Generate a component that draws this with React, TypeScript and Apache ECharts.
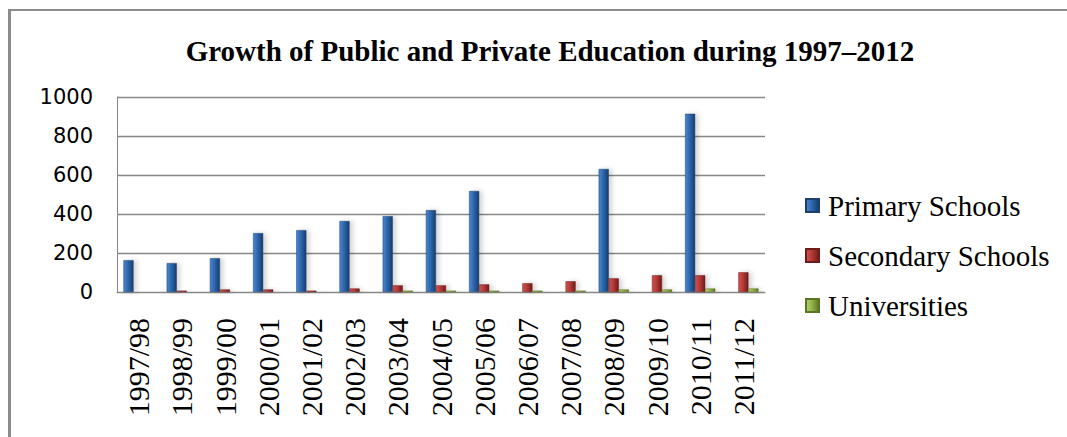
import React, { useEffect, useRef } from "react";
import * as echarts from "echarts";

const categories = [
  "1997/98", "1998/99", "1999/00", "2000/01", "2001/02", "2002/03", "2003/04", "2004/05",
  "2005/06", "2006/07", "2007/08", "2008/09", "2009/10", "2010/11", "2011/12",
];
const primarySchools: (number | null)[] = [163, 148, 173, 302, 317, 364, 389, 420, 518, null, null, 631, null, 914, null];
const secondarySchools: (number | null)[] = [null, 7, 13, 13, 7, 18, 34, 34, 39, 45, 55, 70, 86, 86, 101];
const universities: (number | null)[] = [null, null, null, null, null, null, 7, 7, 7, 7, 7, 13, 13, 18, 18];
const yTicks = [0, 200, 400, 600, 800, 1000];

const SERIF = "Liberation Serif";

const grad = (a: string, b: string, c: string) =>
  new echarts.graphic.LinearGradient(0, 0, 1, 0, [
    { offset: 0, color: a },
    { offset: 0.45, color: b },
    { offset: 1, color: c },
  ]);

export default function App() {
  const ref = useRef<HTMLDivElement>(null);
  useEffect(() => {
    if (!ref.current) return;
    const chart = echarts.init(ref.current, undefined, { renderer: "svg" });
    const shadow = {
      shadowColor: "rgba(0,0,0,0.18)",
      shadowBlur: 5,
      shadowOffsetX: 3,
      shadowOffsetY: 0,
    };
    const mk = (name: string, data: (number | null)[], colors: [string, string, string], border: string) => ({
      name,
      type: "bar",
      data,
      barGap: "0%",
      barCategoryGap: "30%",
      itemStyle: { color: grad(...colors), borderColor: border, borderWidth: 0.5, ...shadow },
    });
    chart.setOption({
      animation: false,
      backgroundColor: "#ffffff",
      textStyle: { fontFamily: SERIF },
      title: {
        text: "Growth of Public and Private Education during 1997\u20132012",
        left: 545,
        textAlign: "center",
        top: 31,
        textStyle: {
          fontFamily: SERIF,
          fontWeight: "bold",
          fontSize: 29,
          color: "#000",
        },
      },
      legend: {
        orient: "vertical",
        left: 800,
        top: 186,
        itemWidth: 13,
        itemHeight: 13,
        itemGap: 21,
        icon: "rect",
        textStyle: {
          fontFamily: SERIF,
          fontSize: 29,
          color: "#000",
          padding: [0, 0, 0, 4],
        },
        data: ["Primary Schools", "Secondary Schools", "Universities"],
      },
      grid: { left: 117, top: 97, right: 302, bottom: 145 },
      xAxis: {
        type: "category",
        data: categories,
        axisLine: { show: true, lineStyle: { color: "#878787", width: 1 } },
        axisTick: { show: false },
        axisLabel: {
          rotate: 90,
          margin: 26,
          interval: 0,
          fontFamily: SERIF,
          fontSize: 30,
          color: "#000",
        },
      },
      yAxis: {
        type: "value",
        min: 0,
        max: yTicks[yTicks.length - 1],
        interval: 200,
        axisLine: { show: true, lineStyle: { color: "#878787", width: 1 } },
        axisTick: { show: false },
        splitLine: { show: true, lineStyle: { color: "#878787", width: 1.3 } },
        axisLabel: {
          margin: 24,
          fontFamily: "DejaVu Sans",
          fontSize: 21,
          color: "#000",
          formatter: (v: number) => String(v),
        },
      },
      graphic: [
        { type: "rect", shape: { x: 8, y: 9, width: 3, height: 430 }, style: { fill: "#8c8c8c" } },
        { type: "rect", shape: { x: 8, y: 9, width: 1060, height: 2 }, style: { fill: "#8c8c8c" } },
      ],
      series: [
        mk("Primary Schools", primarySchools, ["#4a86cf", "#2d67ad", "#173c6b"], "#1f3f6a"),
        mk("Secondary Schools", secondarySchools, ["#d0524f", "#b53a37", "#6e1c1a"], "#6e1c1a"),
        mk("Universities", universities, ["#b4cf6d", "#93b347", "#5b7425"], "#5b7425"),
      ],
    });
    return () => chart.dispose();
  }, []);
  return (
    <div
      ref={ref}
      style={{ position: "absolute", left: 0, top: 0, width: 1067, height: 437 }}
    />
  );
}
